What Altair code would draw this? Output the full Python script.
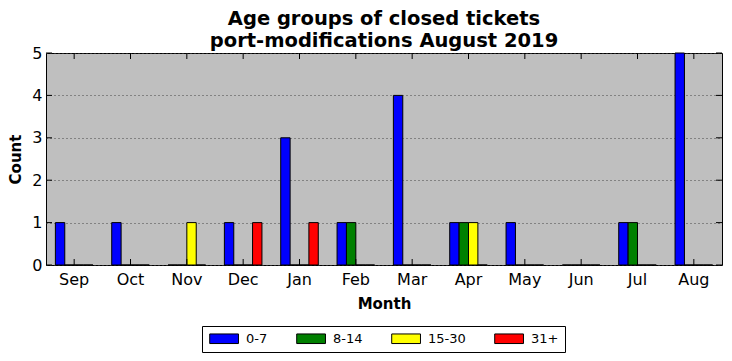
import altair as alt
import pandas as pd

months = ["Sep", "Oct", "Nov", "Dec", "Jan", "Feb", "Mar", "Apr", "May", "Jun", "Jul", "Aug"]
groups = ["0-7", "8-14", "15-30", "31+"]
colors = ["#0000ff", "#008000", "#ffff00", "#ff0000"]
age_0_7 = [1, 1, 0, 1, 3, 1, 4, 1, 1, 0, 1, 5]
age_8_14 = [0, 0, 0, 0, 0, 1, 0, 1, 0, 0, 1, 0]
age_15_30 = [0, 0, 1, 0, 0, 0, 0, 1, 0, 0, 0, 0]
age_31 = [0, 0, 0, 1, 1, 0, 0, 0, 0, 0, 0, 0]
y_ticks = [0, 1, 2, 3, 4, 5]

W, H = 676, 212
TICK = 6

rows = []
for g, vals in zip(groups, [age_0_7, age_8_14, age_15_30, age_31]):
    for m, v in zip(months, vals):
        rows.append({"month": m, "group": g, "count": v})
df = pd.DataFrame(rows)
mdf = pd.DataFrame({"month": months})
ydf = pd.DataFrame({"v": y_ticks})

FONT = "DejaVu Sans"

xscale = alt.Scale(domain=months, paddingInner=1/3, paddingOuter=1/6)
yscale = alt.Scale(domain=[0, 5], nice=False)

xaxis = alt.Axis(title="Month", labelAngle=0, ticks=False, domain=False, grid=False,
                 labelFontSize=16, labelFont=FONT, labelColor="black", labelPadding=6,
                 titleFont=FONT, titleFontSize=15, titleFontWeight="bold", titleColor="black",
                 titlePadding=9)
yaxis = alt.Axis(title="Count", values=y_ticks, ticks=False, domain=False, grid=True,
                 gridColor="#444444", gridDash=[1, 3], gridWidth=1,
                 labelFontSize=16, labelFont=FONT, labelColor="black", labelPadding=4,
                 titleFont=FONT, titleFontSize=15, titleFontWeight="bold", titleColor="black",
                 titlePadding=8)

X = alt.X("month:N", scale=xscale, axis=xaxis, sort=months)
Y = alt.Y("count:Q", scale=yscale, axis=yaxis)

bars = alt.Chart(df).mark_bar(stroke="black", strokeWidth=1, cornerRadius=0).encode(
    x=X,
    xOffset=alt.XOffset("group:N", sort=groups, scale=alt.Scale(domain=groups, paddingInner=0, paddingOuter=0)),
    y=Y,
    color=alt.Color("group:N", sort=groups,
                    scale=alt.Scale(domain=groups, range=colors),
                    legend=alt.Legend(title=None, orient="none", legendX=156, legendY=273,
                                      direction="horizontal", strokeColor="black", fillColor="white",
                                      padding=6, columnPadding=26, labelOffset=25,
                                      symbolType="M-1,-1H5V1H-1Z", symbolSize=92,
                                      symbolStrokeColor="black", symbolStrokeWidth=1,
                                      labelFont=FONT, labelFontSize=13, labelColor="black",
                                      cornerRadius=0)),
)

Xr = alt.X("month:N", scale=xscale, axis=xaxis, sort=months, bandPosition=0.5)
xt_top = alt.Chart(mdf).mark_rule(color="black", strokeWidth=1).encode(
    x=Xr, y=alt.value(0), y2=alt.value(TICK))
xt_bot = alt.Chart(mdf).mark_rule(color="black", strokeWidth=1).encode(
    x=Xr, y=alt.value(H - TICK), y2=alt.value(H))

Yr = alt.Y("v:Q", scale=yscale, axis=yaxis)
yt_left = alt.Chart(ydf).mark_rule(color="black", strokeWidth=1).encode(
    y=Yr, x=alt.value(0), x2=alt.value(TICK))
yt_right = alt.Chart(ydf).mark_rule(color="black", strokeWidth=1).encode(
    y=Yr, x=alt.value(W - TICK), x2=alt.value(W))

chart = alt.layer(bars, xt_top, xt_bot, yt_left, yt_right).properties(
    width=W, height=H,
    title=alt.Title(["Age groups of closed tickets", "port-modifications August 2019"],
                    font=FONT, fontSize=19.5, fontWeight="bold", color="black",
                    anchor="middle", frame="group", offset=-6, lineHeight=22),
    autosize=alt.AutoSizeParams(type="none"),
    padding={"left": 38, "top": 45, "right": 2, "bottom": 88},
    background="white",
).configure_view(stroke="black", strokeWidth=1, fill="#bfbfbf")

chart.save("out.html", embed_options={"renderer": "svg", "actions": False})
